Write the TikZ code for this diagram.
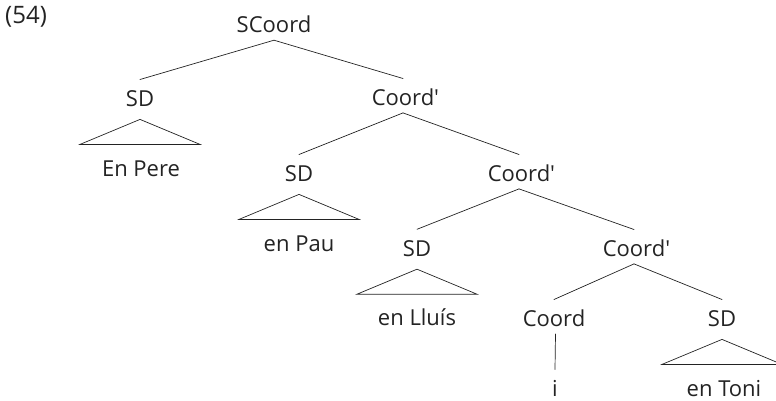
\documentclass[tikz,border=0pt]{standalone}
\usepackage{fontspec}
\setmainfont{Open Sans}
\usepackage{tikz}
\usetikzlibrary{calc}
\definecolor{ink}{RGB}{35,35,35}
\tikzset{
  cat/.style={font=\fontsize{22}{26}\selectfont, text=ink, inner sep=0pt,
              text height=27pt, text depth=7pt, anchor=base},
  branch/.style={ink, line width=0.7pt},
  roof/.style={ink, line width=0.7pt, line join=miter},
}
\newcommand{\barmark}{\rlap{\textquotesingle}}

\begin{document}
\begin{tikzpicture}[x=1pt,y=1pt,line cap=round]
  \useasboundingbox (0,0) rectangle (776,-401);
  \node[cat, anchor=base west, font=\fontsize{24}{28}\selectfont] (ex) at (5,-24) {(54)};
  % ---- categorias ----
  \node[cat] (scoord) at (274,-33)    {SCoord};
  \node[cat] (sd1)    at (140,-106.7) {SD};
  \node[cat] (cA)     at (403,-105.7) {Coord\barmark};
  \node[cat] (sd2)    at (299,-181.7) {SD};
  \node[cat] (cB)     at (519,-181.7) {Coord\barmark};
  \node[cat] (sd3)    at (417,-256.5) {SD};
  \node[cat] (cC)     at (634,-256.7) {Coord\barmark};
  \node[cat] (conj)   at (554,-326.7) {Coord};
  \node[cat] (sd4)    at (722,-326.7) {SD};
  % ---- fulles ----
  \node[cat] (pere)  at (141,-176.7) {En Pere};
  \node[cat] (pau)   at (299,-251.7) {en Pau};
  \node[cat] (lluis) at (417,-325)   {en Lluís};
  \node[cat] (i)     at (555,-396.7) {i};
  \node[cat] (toni)  at (724,-396.7) {en Toni};
  % ---- branques ----
  \foreach \p/\c in {scoord/sd1,scoord/cA,cA/sd2,cA/cB,cB/sd3,cB/cC,cC/conj,cC/sd4}
    \draw[branch] (\p.south) -- (\c.north);
  \draw[branch] ([xshift=1.5pt]conj.south) -- (i.north);
  % triangles sobre els SD
  \foreach \n in {sd1,sd2,sd3,sd4}
    \draw[roof] ([yshift=-5.5pt]\n.south) -- ++(-60,-25) -- ++(120,0) -- cycle;
\end{tikzpicture}
\end{document}
